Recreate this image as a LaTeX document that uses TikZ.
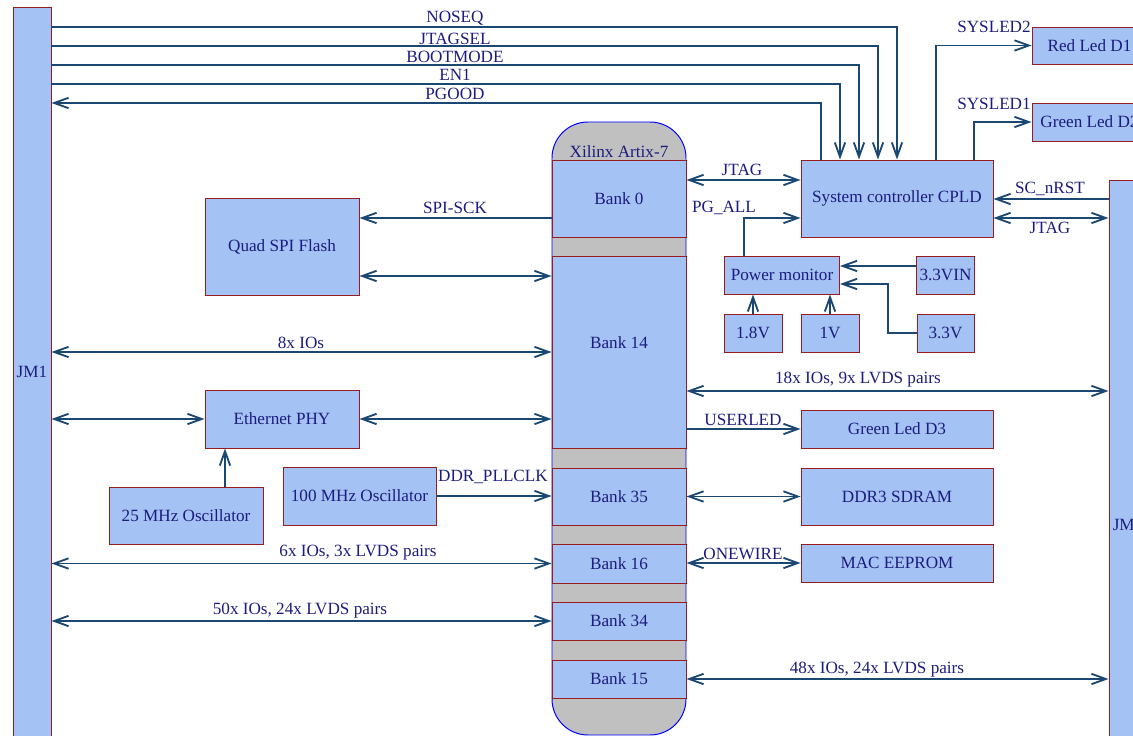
\documentclass[tikz,border=0pt]{standalone}
\usepackage{fontspec}
\setmainfont{Liberation Serif}
\usetikzlibrary{arrows.meta}
\definecolor{boxblue}{HTML}{A4C2F4}
\definecolor{boxred}{HTML}{9A1C1C}
\definecolor{txtblue}{HTML}{1C1C7E}
\definecolor{wireblue}{HTML}{1A4872}
\definecolor{chipgray}{HTML}{C0C0C0}
\newdimen\pp \pp=0.025cm
\tikzset{
  sz/.style 2 args={minimum width=#1\pp, minimum height=#2\pp},
  blk/.style={draw=boxred, fill=boxblue, text=txtblue, line width=0.7pt, inner sep=2pt, font=\fontsize{12.2}{14}\selectfont},
  chip/.style={draw=blue, fill=chipgray, line width=0.7pt, rounded corners=0.9cm},
  lbl/.style={text=txtblue, inner sep=1pt, font=\fontsize{12.2}{14}\selectfont},
  wire/.style={draw=wireblue, line width=1.3pt, >={Straight Barb[length=3.6mm,width=2.6mm]}},
}
\begin{document}
\begin{tikzpicture}[x=0.025cm, y=-0.025cm]
  \path[use as bounding box, clip] (0,0) rectangle (1133,736);

  % Connectors
  \node[blk, sz={38}{730}] (jm1) at (32,372) {JM1};
  \node[blk, sz={38}{690}] (jm2) at (1128,525) {JM2};

  % FPGA with its banks
  \node[chip, sz={134}{613}] (fpga) at (619,428.5) {};
  \node[lbl] (title) at (619,152) {Xilinx Artix-7};
  \node[blk, sz={134}{77}] (bank0) at (619,198.5) {Bank 0};
  \node[blk, sz={134}{192}, label={[lbl, yshift=9\pp]center:Bank 14}] (bank14) at (619,352) {};
  \node[blk, sz={134}{57}] (bank35) at (619,496.5) {Bank 35};
  \node[blk, sz={134}{39}] (bank16) at (619,563.5) {Bank 16};
  \node[blk, sz={134}{38}] (bank34) at (619,621) {Bank 34};
  \node[blk, sz={134}{38}] (bank15) at (619,679) {Bank 15};

  % Left side blocks
  \node[blk, sz={154}{97}] (flash) at (282,246.5) {Quad SPI Flash};
  \node[blk, sz={154}{58}] (eth) at (282,419) {Ethernet PHY};
  \node[blk, sz={154}{57}] (osc25) at (186,515.5) {25 MHz Oscillator};
  \node[blk, sz={153}{58}] (osc100) at (359.5,496) {100 MHz Oscillator};

  % Right side blocks
  \node[blk, sz={192}{77}] (cpld) at (897,198.5) {System controller CPLD};
  \node[blk, sz={115}{37}] (redled) at (1089.5,45.5) {Red Led D1};
  \node[blk, sz={115}{38}] (grnled2) at (1089.5,122) {Green Led D2};
  \node[blk, sz={115}{38}] (pmon) at (782,275) {Power monitor};
  \node[blk, sz={57}{38}] (v33in) at (945.5,275) {3.3VIN};
  \node[blk, sz={57}{38}] (v33) at (945.5,333) {3.3V};
  \node[blk, sz={58}{38}] (v18) at (753,333) {1.8V};
  \node[blk, sz={58}{38}] (v1) at (830,333) {1V};
  \node[blk, sz={192}{38}] (grnled3) at (897,429) {Green Led D3};
  \node[blk, sz={192}{57}] (ddr) at (897,496.5) {DDR3 SDRAM};
  \node[blk, sz={192}{38}] (eeprom) at (897,563) {MAC EEPROM};

  % Control lines from JM1 to the CPLD
  \draw[wire,->] (jm1.east |- 0,27) -| (cpld.north -| 897,0);
  \draw[wire,->] (jm1.east |- 0,46) -| (cpld.north -| 878,0);
  \draw[wire,->] (jm1.east |- 0,65) -| (cpld.north -| 859,0);
  \draw[wire,->] (jm1.east |- 0,84) -| (cpld.north -| 840,0);
  \draw[wire,<-] (jm1.east |- 0,103) -| (cpld.north -| 821,0);
  \node[lbl, anchor=south] at (455,27) {NOSEQ};
  \node[lbl, anchor=south] at (455,46) {JTAGSEL};
  \node[lbl, anchor=south] at (455,64) {BOOTMODE};
  \node[lbl, anchor=south] at (455,82) {EN1};
  \node[lbl, anchor=south] at (455,101) {PGOOD};

  % CPLD links
  \draw[wire,->] (cpld.north -| 936,0) |- (redled.west);
  \draw[wire,->] (cpld.north -| 974,0) |- (grnled2.west);
  \node[lbl] at (994,27) {SYSLED2};
  \node[lbl] at (994,104) {SYSLED1};
  \draw[wire,<->] (bank0.east |- 0,180) -- (cpld.west |- 0,180);
  \node[lbl] at (742,170) {JTAG};
  \draw[wire,<-] (cpld.east |- 0,199) -- (jm2.west |- 0,199);
  \node[lbl] at (1050,189) {SC\_nRST};
  \draw[wire,<->] (cpld.east |- 0,218) -- (jm2.west |- 0,218);
  \node[lbl] at (1050,228) {JTAG};

  % Power monitor
  \draw[wire,->] (pmon.north -| 744,0) |- (cpld.west |- 0,218);
  \node[lbl] at (724,208) {PG\_ALL};
  \draw[wire,->] (v18.north) -- (pmon.south -| v18.north);
  \draw[wire,->] (v1.north) -- (pmon.south -| v1.north);
  \draw[wire,->] (v33in.west |- 0,266) -- (pmon.east |- 0,266);
  \draw[wire,->] (v33.west) -| (888,284) -- (pmon.east |- 0,284);

  % Left side links
  \draw[wire,->] (bank0.west |- 0,218) -- (flash.east |- 0,218);
  \node[lbl] at (455,208) {SPI-SCK};
  \draw[wire,<->] (flash.east |- 0,276) -- (bank14.west |- 0,276);
  \draw[wire,<->] (jm1.east |- 0,352) -- (bank14.west |- 0,352);
  \node[lbl] at (301,343) {8x IOs};
  \draw[wire,<->] (jm1.east |- eth.west) -- (eth.west);
  \draw[wire,<->] (eth.east) -- (bank14.west |- eth.east);
  \draw[wire,->] (osc25.north -| 225,0) -- (eth.south -| 225,0);
  \draw[wire,->] (osc100.east) -- (bank35.west |- osc100.east);
  \node[lbl] at (493,477) {DDR\_PLLCLK};
  \draw[wire,<->] (jm1.east |- bank16.west) -- (bank16.west);
  \node[lbl] at (358,553) {6x IOs, 3x LVDS pairs};
  \draw[wire,<->] (jm1.east |- bank34.west) -- (bank34.west);
  \node[lbl] at (300,611) {50x IOs, 24x LVDS pairs};

  % Right side links
  \draw[wire,<->] (bank14.east |- 0,391) -- (jm2.west |- 0,391);
  \node[lbl] at (858,380) {18x IOs, 9x LVDS pairs};
  \draw[wire,->] (bank14.east |- grnled3.west) -- (grnled3.west);
  \node[lbl] at (743,420) {USERLED};
  \draw[wire,<->] (bank35.east |- ddr.west) -- (ddr.west);
  \draw[wire,<->] (bank16.east |- eeprom.west) -- (eeprom.west);
  \node[lbl] at (743,554) {ONEWIRE};
  \draw[wire,<->] (bank15.east) -- (jm2.west |- bank15.east);
  \node[lbl] at (877,670) {48x IOs, 24x LVDS pairs};
\end{tikzpicture}
\end{document}
